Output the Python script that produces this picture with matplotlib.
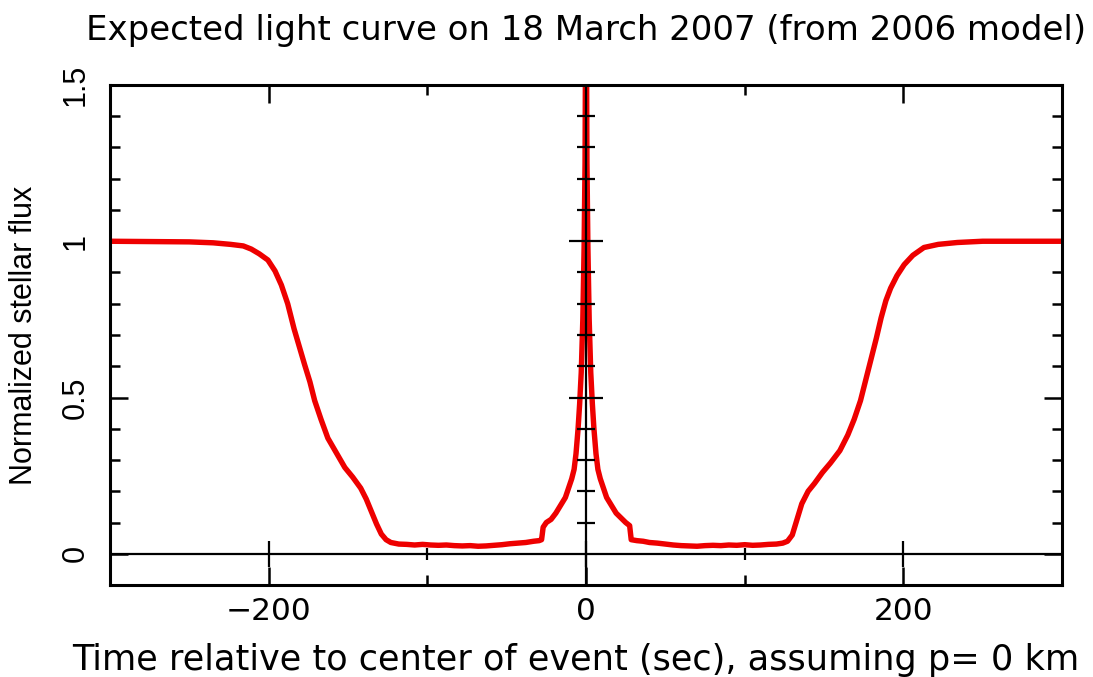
import matplotlib
matplotlib.use("Agg")
import matplotlib.pyplot as plt
import numpy as np

# ---------------- data ----------------
time_sec = [
    -300, -250, -235, -224, -216, -211, -206, -200.5, -196, -192, -188, -184,
    -180.5, -177.4, -174, -171, -167, -162.7, -157, -152, -147, -142, -138.5,
    -135.4, -132, -129, -126, -123, -118, -113, -108, -103, -98, -93, -88,
    -83, -78, -73, -68, -63, -58, -53, -48, -43, -38, -33, -29.5, -28,
    -27, -25, -22, -19, -16, -13, -11, -9, -7.5, -6.3, -5, -4, -3, -2, -1.2,
    -0.6, 0,
    0.6, 1.2, 2, 3, 4, 5, 6.3, 7.5, 9, 11, 13, 16, 19, 22, 25, 27.5, 28.5,
    32, 36, 40, 45, 50, 55, 60, 65, 70, 75, 80, 85, 90, 95, 100, 105, 110,
    115, 120, 124, 127, 130, 133, 136, 140, 144, 149, 154, 160, 165, 169,
    173, 176, 179.5, 183, 186, 189, 192, 196, 200.5, 206, 213, 222, 234,
    250, 300,
]
flux = [
    1.0, 0.998, 0.995, 0.99, 0.985, 0.975, 0.96, 0.94, 0.905, 0.86, 0.80,
    0.72, 0.66, 0.606, 0.55, 0.49, 0.43, 0.37, 0.32, 0.276, 0.245, 0.21,
    0.175, 0.137, 0.095, 0.063, 0.045, 0.036, 0.031, 0.030, 0.028, 0.030,
    0.028, 0.027, 0.028, 0.026, 0.025, 0.026, 0.024, 0.025, 0.027, 0.029,
    0.032, 0.034, 0.036, 0.040, 0.042, 0.045,
    0.085, 0.10, 0.11, 0.13, 0.155, 0.18, 0.21, 0.24, 0.27, 0.32, 0.40,
    0.48, 0.58, 0.75, 0.98, 1.25, 2.0,
    1.25, 0.98, 0.75, 0.58, 0.48, 0.40, 0.32, 0.27, 0.24, 0.21, 0.18, 0.155,
    0.13, 0.115, 0.10, 0.09, 0.045, 0.042, 0.040, 0.036, 0.034, 0.031, 0.028,
    0.026, 0.025, 0.024, 0.026, 0.027, 0.026, 0.028, 0.027, 0.029, 0.027,
    0.028, 0.030, 0.031, 0.034, 0.040, 0.060, 0.11, 0.16, 0.20, 0.225, 0.26,
    0.29, 0.33, 0.38, 0.43, 0.49, 0.55, 0.62, 0.69, 0.755, 0.81, 0.85, 0.89,
    0.925, 0.955, 0.98, 0.99, 0.996, 1.0, 1.0,
]

x_major = [-200, 0, 200]
x_minor = [-300, -100, 100, 300]
x_labels = ["\u2212200", "0", "200"]
y_major = [0, 0.5, 1, 1.5]
y_minor = [0.1, 0.2, 0.3, 0.4, 0.6, 0.7, 0.8, 0.9, 1.1, 1.2, 1.3, 1.4]
y_labels = ["0", "0.5", "1", "1.5"]

title = "Expected light curve on 18 March 2007 (from 2006 model)"
xlabel = "Time relative to center of event (sec), assuming p= 0 km"
ylabel = "Normalized stellar flux"

# ---------------- figure ----------------
W, H = 1093, 677
fig = plt.figure(figsize=(W / 100, H / 100), dpi=100)
ax = fig.add_axes([110 / W, (H - 585) / H, (1062 - 110) / W, (585 - 85) / H])

ax.plot(time_sec, flux, color="#ee0000", lw=3.9, zorder=2,
        solid_joinstyle="round")

ax.set_xlim(-300, 300)
ax.set_ylim(-0.1, 1.5)

# zero axes
ax.axhline(0, color="black", lw=1.6, zorder=3)
ax.axvline(0, color="black", lw=1.6, zorder=3)
# ticks crossing zero axes
ax.plot(x_major, [0] * len(x_major), ls="none", marker="|", ms=19, mew=1.6,
        color="black", zorder=4)
ax.plot(x_minor[1:3], [0] * 2, ls="none", marker="|", ms=9, mew=1.6,
        color="black", zorder=4)
ax.plot([0] * len(y_major[1:3]), y_major[1:3], ls="none", marker="_", ms=25,
        mew=1.6, color="black", zorder=4)
ax.plot([0] * len(y_minor), y_minor, ls="none", marker="_", ms=13, mew=1.6,
        color="black", zorder=4)

for s in ax.spines.values():
    s.set_linewidth(2.2)
    s.set_zorder(5)

ax.set_xticks(x_major)
ax.set_xticklabels(x_labels)
ax.set_xticks(x_minor, minor=True)
ax.set_yticks(y_major)
ax.set_yticklabels(y_labels, rotation=90, va="center",
                   family=["Liberation Sans", "DejaVu Sans"])
ax.set_yticks(y_minor, minor=True)

ax.tick_params(which="both", direction="in", top=True, right=True,
               width=1.8, colors="black")
ax.tick_params(which="major", length=13)
ax.tick_params(which="minor", length=7)
ax.tick_params(axis="x", labelsize=22.5, pad=9)
ax.tick_params(axis="y", labelsize=22, pad=14)

fig.text(0.536, 0.955, title, ha="center", va="center", fontsize=24.5)
fig.text(0.527, 0.025, xlabel, ha="center", va="center", fontsize=25.3)
fig.text(0.022, 0.505, ylabel, ha="center", va="center", rotation=90,
         fontsize=22, family=["Liberation Sans", "DejaVu Sans"])

fig.savefig("out.png", dpi=100)
